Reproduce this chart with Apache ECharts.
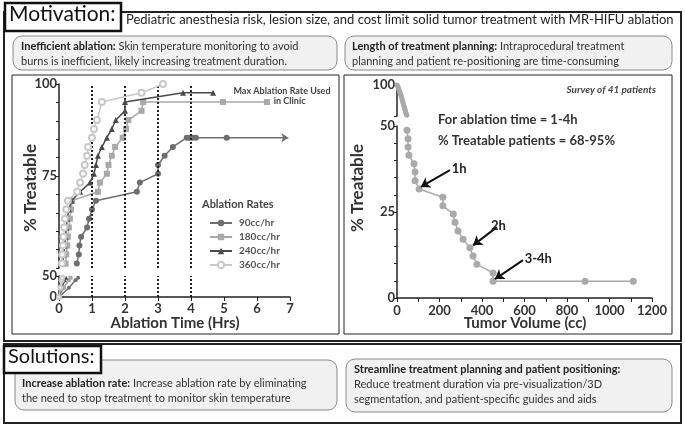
<!DOCTYPE html>
<html>
<head>
<meta charset="utf-8">
<script src="https://cdn.jsdelivr.net/npm/echarts@6/dist/echarts.min.js"></script>
<style>
  html, body { margin: 0; padding: 0; background: #fff; }
  #chart { width: 685px; height: 427px; }
</style>
</head>
<body>
<div id="chart"></div>
<script>
// ablation time (hrs) vs % treatable, upper part of broken axis (50-100)
const rate90 = [[0.54,51.2],[0.6,53.7],[0.62,56.1],[0.67,58.5],[0.85,61],[0.91,63.4],[1.0,65.9],[1.12,68.3],[2.36,70.7],[2.45,73.2],[3.0,75.6],[3.0,78],[3.2,80.5],[3.45,82.9],[3.87,85.4],[3.95,85.4],[4.05,85.4],[4.15,85.4],[5.08,85.4],[6.95,85.4]];
const rate180 = [[0.2,51.2],[0.22,53.7],[0.25,56.1],[0.27,58.5],[0.3,61],[0.33,63.4],[0.36,65.9],[0.4,68.3],[1.18,70.7],[1.24,73.2],[1.45,75.6],[1.5,78],[1.6,80.5],[1.7,82.9],[1.93,85.4],[2.03,87.8],[2.1,90.2],[2.5,92.7],[2.55,95.1],[4.97,95.1],[6.3,95.1]];
const rate240 = [[0.12,51.2],[0.14,53.7],[0.17,56.1],[0.2,58.5],[0.22,61],[0.25,63.4],[0.3,65.9],[0.38,68.3],[0.64,70.7],[0.94,73.2],[1.06,75.6],[1.12,78],[1.18,80.5],[1.3,82.9],[1.45,85.4],[1.6,87.8],[1.72,90.2],[2.0,92.7],[2.0,95.1],[3.76,97.6],[4.67,97.6]];
const rate360 = [[0.09,51.2],[0.1,53.7],[0.12,56.1],[0.14,58.5],[0.16,61],[0.18,63.4],[0.22,65.9],[0.27,68.3],[0.55,70.7],[0.64,73.2],[0.73,75.6],[0.78,78],[0.85,80.5],[0.88,82.9],[1.0,85.4],[1.06,87.8],[1.15,90.2],[1.3,95.1],[2.5,97.6],[3.15,100]];
// lower part of broken axis (0-50)
const low90 = [[0,0],[0.3,22],[0.5,40],[0.58,46]];
const low180 = [[0,0],[0.15,22],[0.3,40],[0.35,46]];
const low240 = [[0,0],[0.08,22],[0.18,40],[0.22,46]];
const low360 = [[0,0],[0.04,22],[0.08,40],[0.1,46]];
const rateNames = ['90cc/hr', '180cc/hr', '240cc/hr', '360cc/hr'];
const rateColors = ['#6e6e6e', '#a9a9a9', '#4a4a4a', '#c9c9c9'];
const rateSymbols = ['circle', 'rect', 'triangle', 'emptyCircle'];
const dottedHours = [1, 2, 3, 4];

// tumor volume (cc) vs % treatable
const volUpper = [[0,100],[4,97.6],[7,95.1],[9,92.7],[12,90.2],[14,87.8],[16,85.4],[19,82.9],[21,80.5],[23,78],[25,75.6],[27,73.2],[29,70.7],[31,68.3],[33,65.9],[35,63.4],[37,61],[39,58.5],[41,56.1],[43,53.7],[46,51.2]];
const volLower = [[47,48.8],[52,46.3],[52,43.9],[56,41.5],[80,39],[85,36.6],[85,34.1],[104,31.7],[216,29.3],[216,26.8],[265,24.4],[273,22],[287,19.5],[311,17.1],[343,14.6],[358,12.2],[376,9.8],[452,7.3],[452,4.9],[885,4.9],[1112,4.9]];
const arrowLabels = ['1h', '2h', '3-4h'];
const arrowFrom = [[249,37.2],[470,20.6],[593,11]];
const arrowTo = [[112,32.3],[358,15.3],[461,5.5]];

const font = 'Lato, "Open Sans", sans-serif';
const axisText = { fontFamily: font, fontSize: 13, fontWeight: 'bold', color: '#333' };
const axisLineStyle = { lineStyle: { color: '#222', width: 1.5 } };

const myChart = echarts.init(document.getElementById('chart'));

function lineSeries(name, data, i, xi, small) {
  const pts = data.map(p => p);
  // 90cc/hr curve ends in an arrow head
  if (i === 0 && !small) {
    pts[pts.length - 1] = { value: data[data.length - 1], symbol: 'arrow', symbolRotate: -90, symbolSize: 7 };
  }
  return {
    name: name,
    type: 'line',
    xAxisIndex: xi,
    yAxisIndex: xi,
    data: pts,
    symbol: rateSymbols[i],
    symbolSize: small ? 4 : 6,
    color: rateColors[i],
    lineStyle: { width: 1.5, color: rateColors[i] },
    itemStyle: { color: rateColors[i] },
    clip: false,
    animation: false,
    z: 3 + i
  };
}

const dottedLine = {
  silent: true,
  symbol: 'none',
  label: { show: false },
  lineStyle: { type: 'dotted', color: '#222', width: 2 },
  data: dottedHours.map(h => ({ xAxis: h }))
};

const series = [];
[rate90, rate180, rate240, rate360].forEach((d, i) => series.push(lineSeries(rateNames[i], d, i, 0, false)));
[low90, low180, low240, low360].forEach((d, i) => series.push(lineSeries(rateNames[i], d, i, 1, true)));
series[0].markLine = dottedLine;
series[4].markLine = dottedLine;

series.push({
  type: 'line', xAxisIndex: 2, yAxisIndex: 2, data: volUpper,
  symbol: 'circle', symbolSize: 5, color: '#aaa',
  lineStyle: { color: '#aaa', width: 1.5 }, animation: false
});
series.push({
  type: 'line', xAxisIndex: 3, yAxisIndex: 3, data: volLower,
  symbol: 'circle', symbolSize: 7, color: '#aaa',
  lineStyle: { color: '#aaa', width: 1.5 }, animation: false,
  markLine: {
    silent: true,
    symbol: ['none', 'arrow'],
    symbolSize: 9,
    lineStyle: { type: 'solid', color: '#111', width: 2 },
    label: { show: true, position: 'start', fontFamily: font, fontSize: 13, fontWeight: 'bold', color: '#222', distance: 2 },
    data: arrowLabels.map((t, i) => [
      { coord: arrowFrom[i], label: { formatter: t } },
      { coord: arrowTo[i] }
    ])
  }
});

const boxText = (x, y, bold, rest) => ({
  type: 'text', left: x, top: y, z: 10,
  style: {
    text: '{b|' + bold + '}' + rest,
    fontFamily: font, fontSize: 11, fill: '#333', lineHeight: 15,
    rich: { b: { fontFamily: font, fontSize: 11, fontWeight: 'bold', fill: '#222' } }
  }
});
const roundBox = (x, y, w, h) => ({
  type: 'rect', z: -5, shape: { x: x, y: y, width: w, height: h, r: 9 },
  style: { fill: '#f1f1f1', stroke: '#8a8a8a', lineWidth: 1 }
});
const frame = (x, y, w, h, lw) => ({
  type: 'rect', z: -8, shape: { x: x, y: y, width: w, height: h },
  style: { fill: '#fff', stroke: '#222', lineWidth: lw }
});

const option = {
  backgroundColor: '#fff',
  animation: false,
  grid: [
    { left: 59, top: 84, width: 231, height: 184 },
    { left: 59, top: 276, width: 231, height: 21 },
    { left: 397, top: 85, width: 255, height: 31 },
    { left: 397, top: 126, width: 255, height: 172 }
  ],
  xAxis: [
    { gridIndex: 0, type: 'value', min: 0, max: 7, show: false },
    { gridIndex: 1, type: 'value', min: 0, max: 7, interval: 1, axisLine: axisLineStyle,
      axisTick: { length: 4, lineStyle: { color: '#222' } }, splitLine: { show: false },
      axisLabel: Object.assign({ margin: 5 }, axisText) },
    { gridIndex: 2, type: 'value', min: 0, max: 1200, show: false },
    { gridIndex: 3, type: 'value', min: 0, max: 1200, interval: 200, axisLine: axisLineStyle,
      axisTick: { length: 4, lineStyle: { color: '#222' } },
      minorTick: { show: true, splitNumber: 2, length: 4, lineStyle: { color: '#222' } },
      splitLine: { show: false }, axisLabel: Object.assign({ margin: 6, formatter: v => String(v) }, axisText) }
  ],
  yAxis: [
    { gridIndex: 0, type: 'value', min: 50, max: 100, interval: 5, axisLine: { show: true, lineStyle: { color: '#222', width: 1.5 } },
      axisTick: { show: true, length: 3, lineStyle: { color: '#222' } }, splitLine: { show: false },
      axisLabel: Object.assign({ margin: 2, formatter: v => (v === 75 || v === 100) ? v : '' }, axisText) },
    { gridIndex: 1, type: 'value', min: 0, max: 50, interval: 50, axisLine: { show: true, lineStyle: { color: '#222', width: 1.5 } },
      axisTick: { show: true, length: 3, lineStyle: { color: '#222' } }, splitLine: { show: false },
      axisLabel: Object.assign({ margin: 2 }, axisText) },
    { gridIndex: 2, type: 'value', min: 50, max: 100, interval: 50, axisLine: { show: true, lineStyle: { color: '#222', width: 1.5 } },
      axisTick: { show: true, length: 3, lineStyle: { color: '#222' } }, splitLine: { show: false },
      axisLabel: Object.assign({ margin: 2, formatter: v => v === 100 ? v : '' }, axisText) },
    { gridIndex: 3, type: 'value', min: 0, max: 50, interval: 5, axisLine: { show: true, lineStyle: { color: '#222', width: 1.5 } },
      axisTick: { show: true, length: 3, lineStyle: { color: '#222' } }, splitLine: { show: false },
      axisLabel: Object.assign({ margin: 2, formatter: v => (v % 25 === 0) ? v : '' }, axisText) }
  ],
  legend: {
    data: rateNames,
    orient: 'vertical',
    left: 204,
    top: 213,
    itemWidth: 22,
    itemHeight: 8,
    itemGap: 4,
    selectedMode: false,
    textStyle: { fontFamily: font, fontSize: 10, fontWeight: 'bold', color: '#555', padding: [0, 0, 0, 2] }
  },
  series: series,
  graphic: [
    // motivation section
    frame(4, 12, 677, 329, 2),
    frame(12, 75, 327, 259, 1),
    frame(344, 75, 328, 259, 1),
    roundBox(13, 36, 324, 34),
    roundBox(345, 36, 327, 34),
    { type: 'rect', z: 5, shape: { x: 5, y: 3, width: 116, height: 28 }, style: { fill: '#fff', stroke: '#111', lineWidth: 2.5 } },
    { type: 'text', z: 10, left: 9, top: 4, style: { text: 'Motivation:', fontFamily: font, fontSize: 21, fill: '#111' } },
    { type: 'text', z: 10, left: 126, top: 13, style: { text: 'Pediatric anesthesia risk, lesion size, and cost limit solid tumor treatment with MR-HIFU ablation', fontFamily: font, fontSize: 13, fill: '#222' } },
    boxText(21, 39, 'Inefficient ablation:', ' Skin temperature monitoring to avoid\nburns is inefficient, likely increasing treatment duration.'),
    boxText(352, 39, 'Length of treatment planning:', ' Intraprocedural treatment\nplanning and patient re-positioning are time-consuming'),
    // left chart labels
    { type: 'text', z: 10, x: 31, y: 188, rotation: Math.PI / 2, style: { text: '% Treatable', fontFamily: font, fontSize: 17, fontWeight: 'bold', fill: '#333', align: 'center', verticalAlign: 'middle' } },
    { type: 'text', z: 10, x: 175, y: 323, style: { text: 'Ablation Time (Hrs)', fontFamily: font, fontSize: 15, fontWeight: 'bold', fill: '#333', align: 'center', verticalAlign: 'middle' } },
    { type: 'text', z: 10, x: 282, y: 96, style: { text: 'Max Ablation Rate Used\n       in Clinic', fontFamily: font, fontSize: 9, fontWeight: 'bold', fill: '#444', align: 'center', verticalAlign: 'middle', lineHeight: 10 } },
    { type: 'text', z: 10, left: 202, top: 199, style: { text: 'Ablation Rates', fontFamily: font, fontSize: 11, fontWeight: 'bold', fill: '#444' } },
    // right chart labels
    { type: 'text', z: 10, x: 358, y: 188, rotation: Math.PI / 2, style: { text: '% Treatable', fontFamily: font, fontSize: 17, fontWeight: 'bold', fill: '#333', align: 'center', verticalAlign: 'middle' } },
    { type: 'text', z: 10, x: 525, y: 323, style: { text: 'Tumor Volume (cc)', fontFamily: font, fontSize: 15, fontWeight: 'bold', fill: '#333', align: 'center', verticalAlign: 'middle' } },
    { type: 'text', z: 10, x: 656, y: 90, style: { text: 'Survey of 41 patients', fontFamily: font, fontSize: 10, fontStyle: 'italic', fontWeight: 'bold', fill: '#444', align: 'right', verticalAlign: 'middle' } },
    { type: 'text', z: 10, left: 438, top: 113, style: { text: 'For ablation time = 1-4h', fontFamily: font, fontSize: 13, fontWeight: 'bold', fill: '#333' } },
    { type: 'text', z: 10, left: 438, top: 134, style: { text: '% Treatable patients = 68-95%', fontFamily: font, fontSize: 13, fontWeight: 'bold', fill: '#333' } },
    // solutions section
    frame(4, 344, 677, 79, 2),
    roundBox(15, 360, 322, 50),
    roundBox(346, 359, 326, 53),
    { type: 'rect', z: 5, shape: { x: 4, y: 346, width: 97, height: 27 }, style: { fill: '#fff', stroke: '#111', lineWidth: 2.5 } },
    { type: 'text', z: 10, left: 8, top: 347, style: { text: 'Solutions:', fontFamily: font, fontSize: 20, fill: '#111' } },
    boxText(22, 376, 'Increase ablation rate:', ' Increase ablation rate by eliminating\nthe need to stop treatment to monitor skin temperature'),
    boxText(354, 362, 'Streamline treatment planning and patient positioning:', '\nReduce treatment duration via pre-visualization/3D\nsegmentation, and patient-specific guides and aids')
  ]
};

myChart.setOption(option);
</script>
</body>
</html>
